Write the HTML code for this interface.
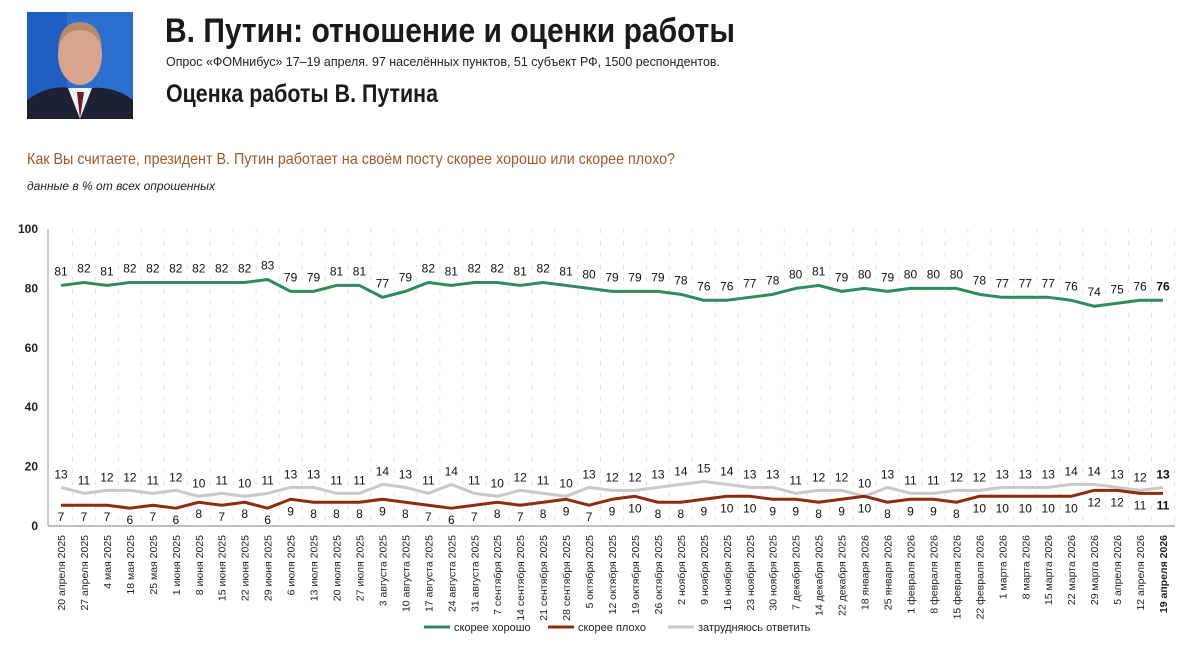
<!DOCTYPE html>
<html><head><meta charset="utf-8"><style>
html,body{margin:0;padding:0;background:#fff;}
svg{display:block;font-family:"Liberation Sans Narrow","Liberation Sans",sans-serif;}
</style></head><body>
<svg id="chart" width="1200" height="660" viewBox="0 0 1200 660" xmlns="http://www.w3.org/2000/svg">
  <g>
    <rect x="27" y="12" width="106" height="107" fill="#2a6fd0"/>
    <rect x="27" y="12" width="40" height="107" fill="#1f5fc4"/>
    <path d="M27 119 L27 100 Q50 84 70 88 L90 88 Q115 86 133 100 L133 119 Z" fill="#1c2233"/>
    <path d="M68 88 L80 119 L92 88 Z" fill="#f2f2f2"/>
    <path d="M77 92 L80 119 L84 92 Z" fill="#6b1e2a"/>
    <ellipse cx="80" cy="55" rx="22" ry="30" fill="#d8a48f"/>
    <path d="M58 48 Q60 22 80 22 Q100 22 102 48 Q96 30 80 30 Q64 30 58 48Z" fill="#b48a70"/>
  </g>
  <text x="165" y="42" font-size="34" font-weight="bold" fill="#1a1a1a" textLength="570" lengthAdjust="spacingAndGlyphs">В. Путин: отношение и оценки работы</text>
  <text x="166" y="66" font-size="13" fill="#222" textLength="554" lengthAdjust="spacingAndGlyphs">Опрос «ФОМнибус» 17–19 апреля. 97 населённых пунктов, 51 субъект РФ, 1500 респондентов.</text>
  <text x="166" y="102" font-size="25" font-weight="bold" fill="#1a1a1a" textLength="272" lengthAdjust="spacingAndGlyphs">Оценка работы В. Путина</text>
  <text x="27" y="164" font-size="16" fill="#a2582a" textLength="648" lengthAdjust="spacingAndGlyphs">Как Вы считаете, президент В. Путин работает на своём посту скорее хорошо или скорее плохо?</text>
  <text x="27" y="190" font-size="12" font-style="italic" fill="#222" textLength="188" lengthAdjust="spacingAndGlyphs">данные в % от всех опрошенных</text>
  <g id="plot"></g>
</svg>
<script>
const categories=["20 апреля 2025","27 апреля 2025","4 мая 2025","18 мая 2025","25 мая 2025","1 июня 2025","8 июня 2025","15 июня 2025","22 июня 2025","29 июня 2025","6 июля 2025","13 июля 2025","20 июля 2025","27 июля 2025","3 августа 2025","10 августа 2025","17 августа 2025","24 августа 2025","31 августа 2025","7 сентября 2025","14 сентября 2025","21 сентября 2025","28 сентября 2025","5 октября 2025","12 октября 2025","19 октября 2025","26 октября 2025","2 ноября 2025","9 ноября 2025","16 ноября 2025","23 ноября 2025","30 ноября 2025","7 декабря 2025","14 декабря 2025","22 декабря 2025","18 января 2026","25 января 2026","1 февраля 2026","8 февраля 2026","15 февраля 2026","22 февраля 2026","1 марта 2026","8 марта 2026","15 марта 2026","22 марта 2026","29 марта 2026","5 апреля 2026","12 апреля 2026","19 апреля 2026"];
const good=[81,82,81,82,82,82,82,82,82,83,79,79,81,81,77,79,82,81,82,82,81,82,81,80,79,79,79,78,76,76,77,78,80,81,79,80,79,80,80,80,78,77,77,77,76,74,75,76,76];
const bad=[7,7,7,6,7,6,8,7,8,6,9,8,8,8,9,8,7,6,7,8,7,8,9,7,9,10,8,8,9,10,10,9,9,8,9,10,8,9,9,8,10,10,10,10,10,12,12,11,11];
const hard=[13,11,12,12,11,12,10,11,10,11,13,13,11,11,14,13,11,14,11,10,12,11,10,13,12,12,13,14,15,14,13,13,11,12,12,10,13,11,11,12,12,13,13,13,14,14,13,12,13];
const yTicks=[0,20,40,60,80,100];
const legendLabels=["скорее хорошо","скорее плохо","затрудняюсь ответить"];

const NS="http://www.w3.org/2000/svg";
const plot=document.getElementById('plot');
const X0=61,X1=1163,Y0=526,Y100=229;
const x=i=>X0+(X1-X0)*i/(categories.length-1);
const y=v=>Y0-(Y0-Y100)*v/100;
function mk(tag,attrs,parent){const e=document.createElementNS(NS,tag);for(const k in attrs)e.setAttribute(k,attrs[k]);(parent||plot).appendChild(e);return e;}

const grid=mk('g',{});


categories.forEach((c,i)=>{
  const l=mk('line',{x1:x(i)+11.5,x2:x(i)+11.5,y1:Y100,y2:Y0,stroke:'#e0e0e0','stroke-width':1,'stroke-dasharray':'4,8'},grid);
  
  
});
const ya=mk('line',{x1:48,x2:48,y1:Y100,y2:Y0,stroke:'#999','stroke-width':1});


const xa=mk('line',{x1:48,x2:1175,y1:Y0,y2:Y0,stroke:'#999','stroke-width':1.2});


yTicks.forEach(t=>{
  const tx=mk('text',{x:38,y:y(t)+4,'font-size':12,'font-weight':'bold','text-anchor':'end',fill:'#222'});
  tx.textContent=t;
  
  
});
categories.forEach((c,i)=>{
  const tx=mk('text',{transform:`translate(${x(i)+4},535) rotate(-90)`,'font-size':10.5,'text-anchor':'end',fill:'#222','font-weight':i===categories.length-1?'bold':'normal'});
  tx.textContent=c;
  
  
});
function series(vals,color,name,labelDy){
  const g=mk('g',{});
  
  
  const p=mk('polyline',{points:vals.map((v,i)=>x(i)+','+y(v)).join(' '),fill:'none',stroke:color,'stroke-width':3,'stroke-linejoin':'round'},g);
  
  
  vals.forEach((v,i)=>{
    const t=mk('text',{x:x(i),y:y(v)+labelDy,'font-size':12,'text-anchor':'middle',fill:'#111','font-weight':i===vals.length-1?'bold':'normal'},g);
    t.textContent=v;
    
    
  });
}
series(hard,'#c8c8c8','hard-to-say',-9);
series(bad,'#8c2d10','rather-bad',16);
series(good,'#2f8a5c','rather-good',-10);
const lg=mk('g',{});


const lcol=['#2f8a5c','#8c2d10','#c8c8c8'];
const lx=[424,548,668];
legendLabels.forEach((s,i)=>{
  const l=mk('line',{x1:lx[i],x2:lx[i]+26,y1:627,y2:627,stroke:lcol[i],'stroke-width':3},lg);
  
  
  const t=mk('text',{x:lx[i]+30,y:631,'font-size':11,fill:'#222'},lg);
  t.textContent=s;
  
  
});
</script>
</body></html>
